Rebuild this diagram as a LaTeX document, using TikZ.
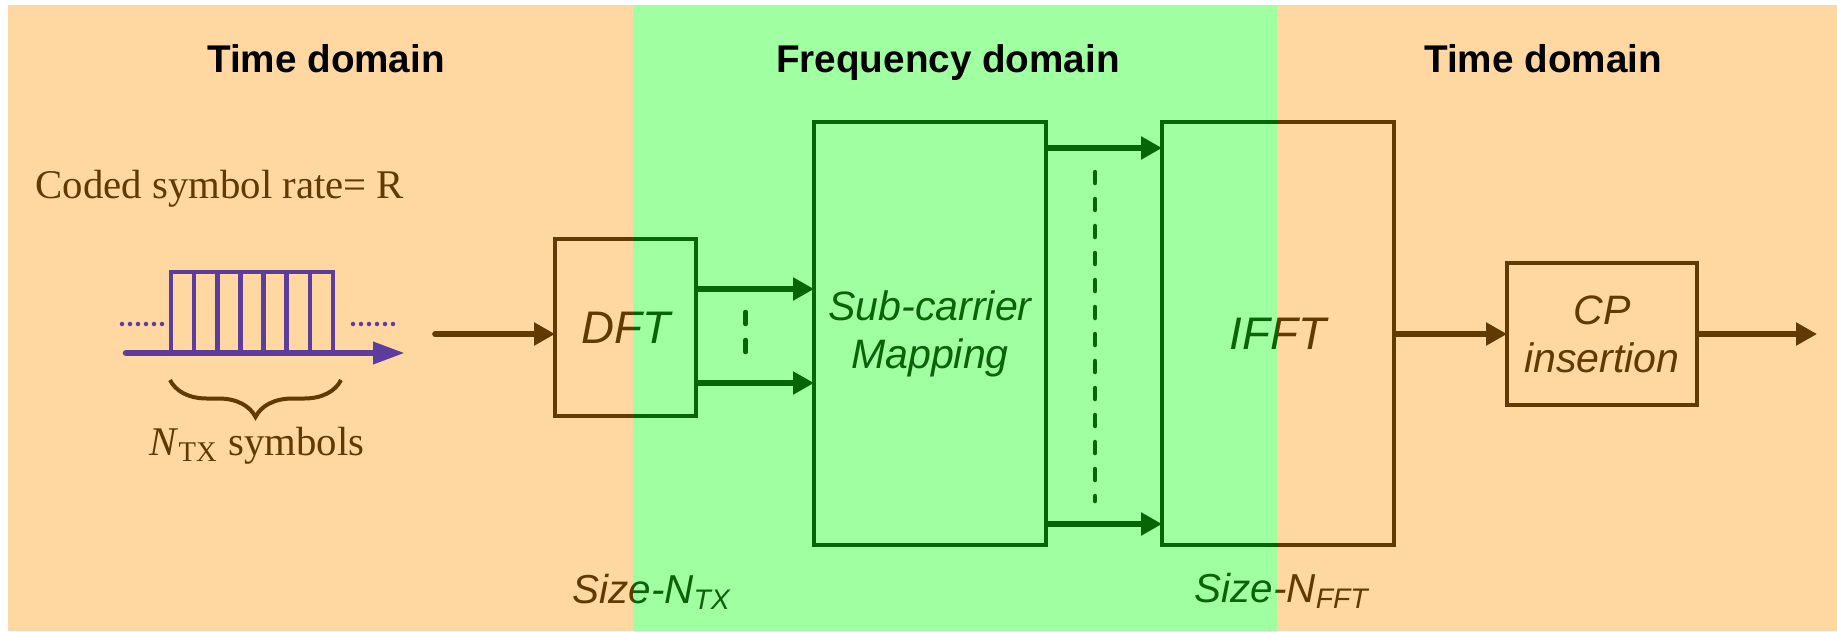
\documentclass[tikz,border=0pt]{standalone}
\usepackage{fontspec}
\setmainfont{Liberation Sans}
\newfontfamily\timesfont{Liberation Serif}
\usetikzlibrary{arrows.meta, decorations.pathreplacing}
\definecolor{time-bg}{HTML}{FFD7A0}
\definecolor{freq-bg}{HTML}{A0FFA0}
\definecolor{line-brown}{HTML}{603A00}
\definecolor{pulse-purple}{HTML}{5C3C9C}

\tikzset{
  blockbox/.style={draw=line-brown, line width=0.036cm, inner sep=0pt, outer sep=0pt,
    align=center, text=line-brown, font=\fontsize{13}{15}\selectfont\itshape},
  smallblock/.style={blockbox, font=\fontsize{11.7}{13.7}\selectfont\itshape},
  flowarrow/.style={draw=line-brown, line width=0.057cm,
    -{Triangle[length=0.21cm,width=0.22cm]}},
  domainlabel/.style={font=\fontsize{11}{13}\selectfont\bfseries, anchor=base},
  serifnote/.style={text=line-brown, font=\timesfont\fontsize{11.6}{13}\selectfont},
  sizelabel/.style={text=line-brown, font=\fontsize{11.5}{13}\selectfont\itshape, anchor=base}
}

\begin{document}
\begin{tikzpicture}[every node/.style={inner sep=0pt}]
      \useasboundingbox (0,0) rectangle (18.37,6.31);
      \fill[white] (0,0) rectangle (18.37,6.31);
      \fill[time-bg] (0.08,0) rectangle (18.37,6.26);
      \fill[freq-bg] (6.33,0) rectangle (12.77,6.26);
      \node[domainlabel] (TD1) at (3.26,5.59) {Time domain};
      \node[domainlabel] (FD) at (9.48,5.59) {Frequency domain};
      \node[domainlabel] (TD2) at (15.43,5.59) {Time domain};
      \node[serifnote, anchor=base west] (RATE) at (0.35,4.33) {Coded symbol rate= R};
      \draw[pulse-purple, line width=0.065cm, line cap=round,
            -{Triangle[length=0.32cm,width=0.21cm]}] (1.26,2.78) -- (4.05,2.78);
      \foreach \k in {0,...,6}
        \draw[pulse-purple, line width=0.045cm] ({1.71+0.2314*\k},2.78) rectangle ({1.71+0.2314*(\k+1)},3.59);
      \draw[pulse-purple, line width=0.045cm, line cap=round, dash pattern=on 0pt off 0.08cm] (1.22,3.07) -- (1.63,3.07);
      \draw[pulse-purple, line width=0.045cm, line cap=round, dash pattern=on 0pt off 0.08cm] (3.53,3.07) -- (3.96,3.07);
      \draw[line-brown, line width=0.04cm, decorate, decoration={brace, mirror, amplitude=0.37cm}] (1.70,2.51) -- (3.41,2.51);
      \node[serifnote, anchor=base] (NTX) at (2.57,1.76) {\textit{N}\textsubscript{TX} symbols};
      \node[blockbox, minimum width=1.41cm, minimum height=1.77cm] (DFT) at (6.255,3.035) {DFT};
      \node[smallblock, minimum width=2.32cm, minimum height=4.23cm] (SCM) at (9.30,2.975) {Sub-carrier\\Mapping};
      \node[blockbox, minimum width=2.32cm, minimum height=4.23cm] (IFFT) at (12.78,2.975) {IFFT};
      \node[smallblock, minimum width=1.90cm, minimum height=1.42cm] (CP) at (16.02,2.97) {CP\\insertion};
      \node[sizelabel] (SZTX) at (6.52,0.28) {Size-N\textsubscript{TX}};
      \node[sizelabel] (SZFFT) at (12.82,0.29) {Size-N\textsubscript{FFT}};
      \coordinate (IN) at (4.35,2.97);
      \coordinate (OUT) at (18.17,2.97);
      \draw[flowarrow, line cap=round] (IN) -- (DFT.west |- IN);
      \draw[flowarrow] (DFT.east |- 0,3.42) -- (SCM.west |- 0,3.42);
      \draw[flowarrow] (DFT.east |- 0,2.48) -- (SCM.west |- 0,2.48);
      \draw[line-brown, line width=0.045cm, line cap=round, dash pattern=on 0.12cm off 0.16cm] (7.456,3.19) -- (7.456,2.79);
      \draw[flowarrow] (SCM.east |- 0,4.83) -- (IFFT.west |- 0,4.83);
      \draw[flowarrow] (SCM.east |- 0,1.07) -- (IFFT.west |- 0,1.07);
      \draw[line-brown, line width=0.045cm, line cap=round, dash pattern=on 0.11cm off 0.16cm] (10.95,4.59) -- (10.95,1.30);
      \draw[flowarrow] (IFFT.east |- CP) -- (CP.west);
      \draw[flowarrow] (CP.east) -- (OUT);
      \fill[freq-bg, blend mode=hue] (6.33,0) rectangle (12.77,6.26);
    \end{tikzpicture}
\end{document}
